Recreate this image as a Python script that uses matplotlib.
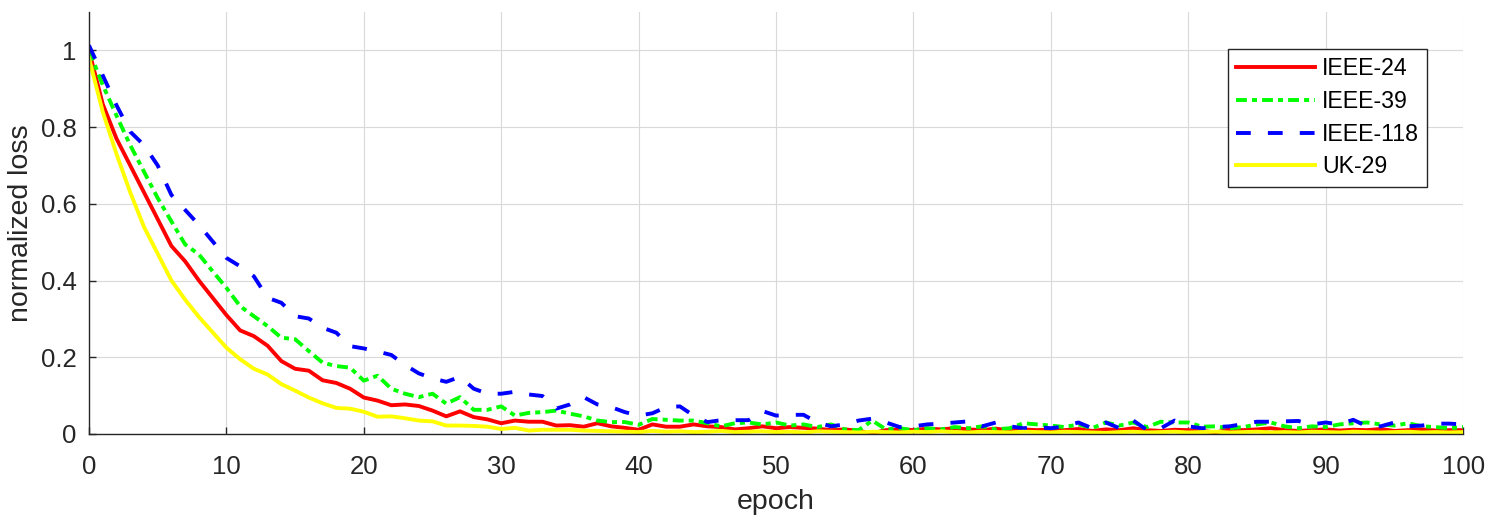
import numpy as np
import matplotlib
matplotlib.use('Agg')
import matplotlib.pyplot as plt

# normalized training loss per epoch
epochs = list(range(101))

ieee24 = [1.00, 0.86, 0.77, 0.70, 0.63, 0.56, 0.49, 0.45, 0.40, 0.355,
          0.31, 0.27, 0.255, 0.23, 0.19, 0.17, 0.165, 0.14, 0.133, 0.118,
          0.095, 0.087, 0.075, 0.077, 0.073, 0.061, 0.046, 0.059, 0.044, 0.038,
          0.028, 0.035, 0.032, 0.032, 0.022, 0.023, 0.019, 0.028, 0.020, 0.016,
          0.011, 0.025, 0.019, 0.019, 0.025, 0.020, 0.018, 0.012, 0.015, 0.020,
          0.015, 0.018, 0.016, 0.014, 0.010, 0.012, 0.008, 0.002, 0.010, 0.012,
          0.010, 0.014, 0.012, 0.015, 0.012, 0.010, 0.014, 0.009, 0.012, 0.010,
          0.012, 0.010, 0.013, 0.008, 0.012, 0.010, 0.015, 0.010, 0.008, 0.011,
          0.010, 0.008, 0.004, 0.012, 0.010, 0.012, 0.015, 0.010, 0.008, 0.010,
          0.012, 0.009, 0.011, 0.010, 0.013, 0.008, 0.010, 0.012, 0.009, 0.010,
          0.010]

ieee39 = [1.00, 0.91, 0.83, 0.753, 0.684, 0.615, 0.554, 0.494, 0.468, 0.424,
          0.381, 0.333, 0.307, 0.281, 0.251, 0.247, 0.216, 0.186, 0.177, 0.173,
          0.139, 0.152, 0.118, 0.105, 0.096, 0.105, 0.079, 0.096, 0.063, 0.063,
          0.072, 0.048, 0.055, 0.057, 0.061, 0.053, 0.046, 0.035, 0.031, 0.031,
          0.024, 0.039, 0.037, 0.035, 0.035, 0.028, 0.020, 0.028, 0.030, 0.025,
          0.030, 0.022, 0.025, 0.018, 0.025, 0.012, 0.010, 0.035, 0.012, 0.015,
          0.010, 0.015, 0.012, 0.018, 0.015, 0.020, 0.012, 0.015, 0.028, 0.025,
          0.022, 0.018, 0.025, 0.015, 0.030, 0.022, 0.030, 0.018, 0.032, 0.030,
          0.030, 0.019, 0.020, 0.015, 0.018, 0.025, 0.030, 0.020, 0.015, 0.020,
          0.018, 0.025, 0.028, 0.030, 0.025, 0.022, 0.028, 0.020, 0.018, 0.015,
          0.018]

ieee118 = [1.013, 0.935, 0.857, 0.788, 0.753, 0.70, 0.623, 0.584, 0.545, 0.502,
           0.459, 0.437, 0.411, 0.355, 0.342, 0.307, 0.301, 0.277, 0.264, 0.229,
           0.223, 0.215, 0.206, 0.18, 0.158, 0.145, 0.136, 0.149, 0.118, 0.105,
           0.105, 0.11, 0.103, 0.099, 0.066, 0.077, 0.096, 0.077, 0.07, 0.057,
           0.048, 0.054, 0.07, 0.072, 0.048, 0.031, 0.036, 0.036, 0.036, 0.06,
           0.048, 0.05, 0.05, 0.03, 0.02, 0.025, 0.035, 0.04, 0.03, 0.018,
           0.02, 0.025, 0.027, 0.03, 0.033, 0.02, 0.03, 0.02, 0.015, 0.018,
           0.015, 0.02, 0.03, 0.015, 0.03, 0.015, 0.035, 0.01, 0.015, 0.035,
           0.02, 0.015, 0.018, 0.02, 0.026, 0.032, 0.032, 0.033, 0.034, 0.025,
           0.03, 0.025, 0.037, 0.02, 0.02, 0.03, 0.02, 0.022, 0.027, 0.027,
           0.025]

uk29 = [0.98, 0.84, 0.73, 0.63, 0.54, 0.47, 0.40, 0.35, 0.305, 0.265,
        0.225, 0.195, 0.17, 0.155, 0.13, 0.113, 0.095, 0.08, 0.068, 0.066,
        0.058, 0.045, 0.046, 0.041, 0.035, 0.033, 0.022, 0.022, 0.021, 0.019,
        0.013, 0.016, 0.009, 0.011, 0.011, 0.011, 0.009, 0.008, 0.007, 0.006,
        0.005, 0.008, 0.006, 0.007, 0.005, 0.006, 0.008, 0.005, 0.006, 0.007,
        0.005, 0.006, 0.004, 0.007, 0.006, 0.005, 0.004, 0.006, 0.005, 0.004,
        0.006, 0.005, 0.007, 0.005, 0.004, 0.006, 0.005, 0.004, 0.006, 0.005,
        0.004, 0.006, 0.005, 0.004, 0.003, 0.005, 0.006, 0.004, 0.005, 0.006,
        0.004, 0.005, 0.006, 0.004, 0.005, 0.006, 0.004, 0.005, 0.004, 0.006,
        0.005, 0.004, 0.006, 0.005, 0.004, 0.005, 0.006, 0.004, 0.005, 0.004,
        0.005]

plt.rcParams['font.family'] = ['Liberation Sans', 'DejaVu Sans']

fig = plt.figure(figsize=(14.93, 5.21), dpi=100)
ax = fig.add_axes([0.0596, 0.167, 0.9204, 0.81])

lw = 2.8
ax.plot(epochs, ieee24, color='#ff0000', lw=lw, label='IEEE-24')
ax.plot(epochs, ieee39, color='#00ff00', lw=lw, dashes=(2.8, 1.3, 1.3, 1.3), label='IEEE-39')
ax.plot(epochs, ieee118, color='#0000ff', lw=lw, dashes=(3.8, 4.4), label='IEEE-118')
ax.plot(epochs, uk29, color='#ffff00', lw=lw, label='UK-29')

ax.set_xlim(0, 100)
ax.set_ylim(0, 1.1)
ax.set_xticks(range(0, 101, 10))
ax.set_yticks([0, 0.2, 0.4, 0.6, 0.8, 1])
ax.set_yticklabels(['0', '0.2', '0.4', '0.6', '0.8', '1'])
ax.tick_params(direction='in', labelsize=18.5, colors='#262626', length=5, width=1)
ax.tick_params(axis='x', pad=15)
ax.tick_params(axis='y', pad=9)
ax.grid(True, color='#d9d9d9', lw=0.8)
ax.set_axisbelow(True)
for s in ['top', 'right']:
    ax.spines[s].set_visible(False)
for s in ['left', 'bottom']:
    ax.spines[s].set_color('#262626')
    ax.spines[s].set_linewidth(1)

ax.set_xlabel('epoch', fontsize=20.5, color='#262626', labelpad=7)
ax.set_ylabel('normalized loss', fontsize=20.5, color='#262626', labelpad=5)

leg = ax.legend(loc='upper right', bbox_to_anchor=(0.974, 0.912), fontsize=16.7,
                handlelength=3.4, frameon=True, fancybox=False, framealpha=1,
                edgecolor='#262626', borderpad=0.35, labelspacing=0.42,
                handletextpad=0.3, borderaxespad=0)
leg.get_frame().set_linewidth(1)

fig.savefig('out.png', dpi=100)
